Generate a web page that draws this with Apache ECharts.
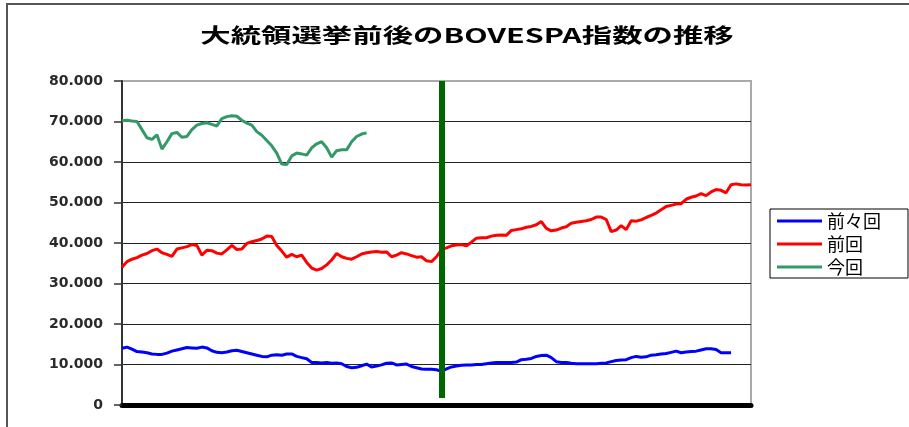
<!DOCTYPE html>
<html>
<head>
<meta charset="utf-8">
<title>BOVESPA</title>
<script src="https://cdn.jsdelivr.net/npm/echarts@6/dist/echarts.min.js"></script>
<style>
	html, body { margin:0; padding:0; background:#fff; }
	#main { width:909px; height:427px; }
</style>
</head>
<body>
<div id="main"></div>
<script>
	// 前々回 / 前回 / 今回 (5px毎に読み取り)
	var seriesNames = ['前々回', '前回', '今回'];
	var yTicks = [0, 10000, 20000, 30000, 40000, 50000, 60000, 70000, 80000];
	var electionIndex = 64;

	var zenzenkai = [
		14000,14300,13800,13200,13100,12900,12600,12500,12500,12800,
		13300,13600,13900,14200,14100,14000,14300,14100,13400,13000,
		12900,13100,13400,13500,13200,12900,12600,12300,12000,11900,
		12300,12400,12300,12600,12600,12000,11700,11400,10500,10500,
		10400,10500,10300,10400,10200,9500,9200,9300,9700,10100,
		9400,9600,9900,10300,10400,9900,10000,10100,9500,9200,
		8900,8800,8800,8700,8300,8900,9400,9600,9800,9900,
		9900,10000,10000,10200,10400,10500,10500,10500,10500,10600,
		11200,11300,11500,12000,12200,12300,11700,10700,10500,10500,
		10300,10200,10200,10200,10200,10200,10300,10400,10700,11000,
		11100,11200,11700,12000,11800,11900,12300,12400,12600,12700,
		13000,13300,12900,13100,13200,13300,13600,13900,13900,13700,
		12900,12900,12900
	];
	var zenkai = [
		34000,35400,36000,36400,37000,37400,38100,38500,37600,37200,
		36700,38500,38800,39100,39600,39400,37000,38200,38100,37500,
		37300,38300,39400,38400,38500,39900,40300,40600,41000,41700,
		41600,39400,38000,36500,37200,36600,37000,35200,33800,33300,
		33700,34600,35800,37400,36600,36200,36000,36600,37300,37600,
		37800,37900,37700,37800,36600,37000,37600,37300,36900,36500,
		36600,35600,35400,36600,38400,38800,39300,39500,39600,39300,
		40200,41200,41300,41300,41700,41900,42000,41900,43100,43300,
		43500,43900,44100,44500,45300,43600,43000,43200,43700,44000,
		44900,45100,45300,45500,45800,46400,46400,45800,42800,43200,
		44300,43300,45500,45400,45700,46300,46800,47400,48200,49000,
		49300,49600,49700,50800,51300,51600,52200,51700,52600,53200,
		53000,52400,54400,54600,54400,54300,54400
	];
	var konkai = [
		70200,70300,70100,70000,68000,66000,65600,66700,63200,65000,
		67000,67300,66100,66300,68000,69100,69500,69700,69300,68900,
		70700,71200,71400,71300,70300,69600,69100,67500,66600,65300,
		64000,62200,59500,59400,61500,62200,62000,61700,63500,64500,
		65000,63500,61200,62800,63000,63000,65000,66300,66900,67200
	];

	var categories = [];
	for (var i = 0; i < zenkai.length; i++) {
		categories.push(i - electionIndex);
	}

	var myChart = echarts.init(document.getElementById('main'), null, {renderer: 'canvas'});
	option = {
		animation: false,
		backgroundColor: '#fff',
		graphic: [
			{
				type: 'rect',
				shape: {x: 7, y: 4, width: 1000, height: 1000},
				style: {fill: 'none', stroke: '#555', lineWidth: 2},
				silent: true
			},
			{
				type: 'text',
				x: 467,
				y: 35,
				scaleX: 1.52,
				style: {
					text: '大統領選挙前後のBOVESPA指数の推移',
					align: 'center',
					verticalAlign: 'middle',
					textAlign: 'center',
					textVerticalAlign: 'middle',
					fontFamily: '"Noto Sans CJK JP", sans-serif',
					fontSize: 20,
					fontWeight: 'bold',
					fill: '#000'
				}
			}
		],
		legend: {
			orient: 'vertical',
			left: 770,
			top: 209,
			padding: [3, 27, 2, 7],
			itemGap: 5,
			itemWidth: 45,
			itemHeight: 3,
			icon: 'rect',
			borderColor: '#000',
			borderWidth: 1,
			backgroundColor: '#fff',
			textStyle: {
				fontFamily: '"Noto Sans CJK JP", sans-serif',
				fontSize: 18,
				lineHeight: 18,
				color: '#000'
			},
			data: seriesNames
		},
		grid: {
			left: 122,
			right: 158,
			top: 81,
			bottom: 22,
			show: true,
			borderColor: '#aaa',
			borderWidth: 2,
			containLabel: false
		},
		xAxis: [
			{
				type: 'category',
				boundaryGap: false,
				data: categories,
				offset: 2.5,
				axisLine: {lineStyle: {color: '#000', width: 5}},
				axisTick: {show: false},
				axisLabel: {show: false},
				splitLine: {show: false}
			}
		],
		yAxis: [
			{
				type: 'value',
				min: yTicks[0],
				max: yTicks[yTicks.length - 1],
				interval: 10000,
				axisLine: {show: true, lineStyle: {color: '#333', width: 2}},
				axisTick: {show: true, length: 8, lineStyle: {color: '#333', width: 1.5}},
				axisLabel: {
					margin: 19,
					color: '#2a2a2a',
					fontFamily: '"DejaVu Sans", sans-serif',
					fontWeight: 'bold',
					fontSize: 14,
					formatter: function (v) {
						return String(v).replace(/\B(?=(\d{3})+(?!\d))/g, '.');
					}
				},
				splitLine: {
					show: true,
					lineStyle: {
						color: ['#000', '#222', '#222', '#222', '#222', '#222', '#222', '#222', '#aaa'],
						width: 1.2
					}
				}
			}
		],
		series: [
			{
				name: seriesNames[0],
				type: 'line',
				data: zenzenkai,
				symbol: 'none',
				color: '#0000ff',
				lineStyle: {color: '#0000ff', width: 3}
			},
			{
				name: seriesNames[1],
				type: 'line',
				data: zenkai,
				symbol: 'none',
				color: '#ff0000',
				lineStyle: {color: '#ff0000', width: 3},
				// 選挙日
				markLine: {
					silent: true,
					symbol: ['none', 'none'],
					label: {show: false},
					lineStyle: {color: '#006600', width: 6, type: 'solid'},
					data: [
						[{coord: [electionIndex, 80000]}, {coord: [electionIndex, 1700]}]
					]
				},
				z: 3
			},
			{
				name: seriesNames[2],
				type: 'line',
				data: konkai,
				symbol: 'none',
				color: '#339966',
				lineStyle: {color: '#339966', width: 3}
			}
		]
	};

	// 为echarts对象加载数据
	myChart.setOption(option);
</script>
</body>
</html>
